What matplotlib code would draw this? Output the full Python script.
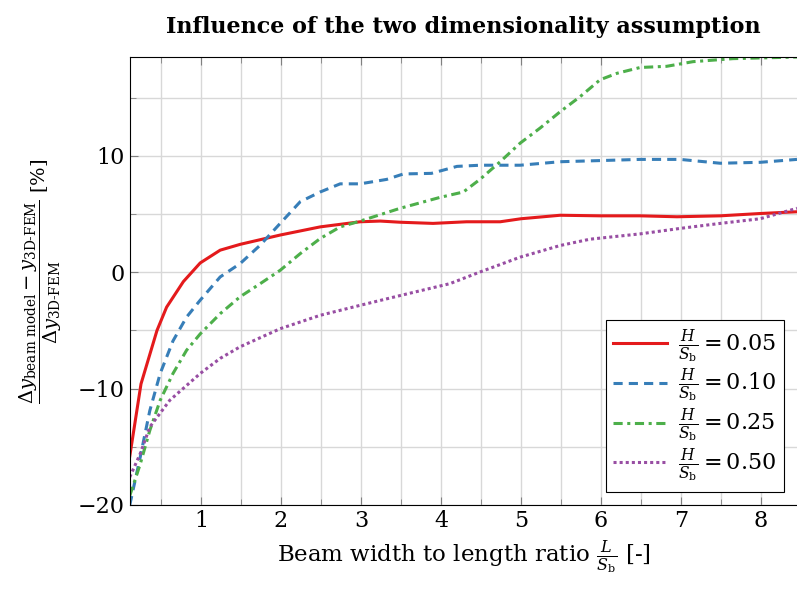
import numpy as np
import matplotlib.pyplot as plt
from matplotlib.ticker import MultipleLocator

plt.rcParams['font.family'] = 'DejaVu Serif'
plt.rcParams['mathtext.fontset'] = 'dejavuserif'

# Relative error of the beam model vs. 3D FEM, per height ratio H/S_b
x_005 = [0.11, 0.25, 0.45, 0.57, 0.78, 0.99, 1.24, 1.49, 1.74, 1.99, 2.49, 2.99,
         3.24, 3.49, 3.9, 4.32, 4.74, 5.0, 5.49, 5.99, 6.49, 6.95, 7.49, 7.99, 8.45]
y_005 = [-15.8, -9.6, -5.0, -3.0, -0.8, 0.8, 1.9, 2.4, 2.8, 3.2, 3.9, 4.34,
         4.4, 4.3, 4.2, 4.34, 4.34, 4.6, 4.9, 4.85, 4.85, 4.77, 4.85, 5.05, 5.2]

x_010 = [0.11, 0.24, 0.36, 0.49, 0.65, 0.82, 0.99, 1.24, 1.49, 1.74, 1.99, 2.24,
         2.49, 2.74, 2.99, 3.32, 3.53, 3.88, 4.2, 4.49, 4.99, 5.49, 6.49, 6.99,
         7.49, 7.99, 8.45]
y_010 = [-20.0, -15.9, -11.9, -8.7, -5.9, -3.85, -2.4, -0.4, 0.75, 2.33, 4.2, 6.06,
         6.9, 7.6, 7.6, 7.98, 8.45, 8.5, 9.1, 9.2, 9.2, 9.5, 9.7, 9.7,
         9.37, 9.45, 9.7]

x_025 = [0.11, 0.24, 0.36, 0.49, 0.65, 0.82, 0.99, 1.24, 1.49, 1.74, 1.99, 2.24,
         2.49, 2.74, 2.99, 3.49, 3.99, 4.28, 4.49, 4.74, 4.99, 5.24, 5.49, 5.74,
         5.99, 6.2, 6.49, 6.82, 7.15, 7.65, 8.45]
y_025 = [-19.2, -16.5, -13.6, -11.0, -8.7, -6.7, -5.3, -3.56, -2.1, -0.98, 0.17, 1.6,
         2.9, 3.9, 4.4, 5.5, 6.44, 6.9, 8.0, 9.5, 11.1, 12.4, 13.8, 15.1,
         16.55, 17.1, 17.6, 17.7, 18.1, 18.36, 18.5]

x_050 = [0.11, 0.24, 0.36, 0.61, 0.99, 1.24, 1.49, 1.99, 2.49, 2.99, 3.49, 4.11,
         4.49, 4.99, 5.49, 5.86, 6.49, 6.99, 7.49, 7.99, 8.45]
y_050 = [-17.6, -15.6, -13.3, -11.0, -8.7, -7.4, -6.4, -4.85, -3.7, -2.84, -2.0, -0.98,
         0.03, 1.3, 2.3, 2.84, 3.3, 3.77, 4.2, 4.6, 5.5]

labels = [r'$\frac{H}{S_\mathrm{b}} = 0.05$', r'$\frac{H}{S_\mathrm{b}} = 0.10$',
          r'$\frac{H}{S_\mathrm{b}} = 0.25$', r'$\frac{H}{S_\mathrm{b}} = 0.50$']

fig = plt.figure(figsize=(7.97, 5.92), dpi=100)
ax = fig.add_axes([0.1631, 0.147, 0.8369, 0.7567])

ax.plot(x_005, y_005, color='#e41a1c', lw=2.2, ls='-', label=labels[0])
ax.plot(x_010, y_010, color='#377eb8', lw=2.2, ls=(0, (3, 2)), label=labels[1])
ax.plot(x_025, y_025, color='#4daf4a', lw=2.2, ls=(0, (3, 1.5, 1, 1.5)), label=labels[2])
ax.plot(x_050, y_050, color='#984ea3', lw=2.2, ls=(0, (1, 1)), label=labels[3])

ax.set_xlim(0.1125, 8.45)
ax.set_ylim(-20, 18.5)
ax.xaxis.set_major_locator(MultipleLocator(1))
ax.xaxis.set_minor_locator(MultipleLocator(0.5))
ax.yaxis.set_major_locator(MultipleLocator(10))
ax.yaxis.set_minor_locator(MultipleLocator(5))
ax.grid(True, which='both', color='#d8d8d8', lw=1.0)
ax.set_axisbelow(True)
ax.tick_params(which='both', direction='in', top=True, right=False,
               color='#808080', labelsize=16)
ax.tick_params(which='major', length=6)
ax.tick_params(which='minor', length=4)
ax.spines['right'].set_visible(False)
for s in ['left', 'top', 'bottom']:
    ax.spines[s].set_linewidth(0.8)

ax.set_title('Influence of the two dimensionality assumption',
             fontsize=16, fontweight='bold', pad=17)
ax.set_xlabel(r'Beam width to length ratio $\frac{L}{S_\mathrm{b}}$ [-]',
              fontsize=16.5, labelpad=5)
ax.set_ylabel(r'$\dfrac{\Delta y_{\text{beam model}} - y_{\text{3D-FEM}}}'
              r'{\Delta y_{\text{3D-FEM}}}$ [%]', fontsize=14, labelpad=10)

leg = ax.legend(loc='lower right', fontsize=16, frameon=True, fancybox=False,
                edgecolor='black', framealpha=1, handlelength=2.4,
                handletextpad=0.5, labelspacing=0.1, borderaxespad=0.6,
                borderpad=0.35)
leg.get_frame().set_linewidth(0.8)

fig.savefig('out.png', dpi=100)
